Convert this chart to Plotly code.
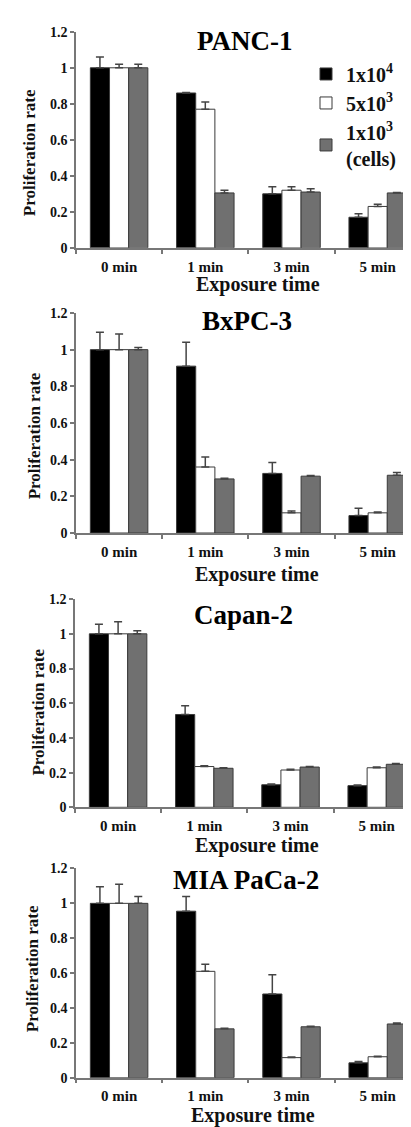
import plotly.graph_objects as go

W, H = 411, 1127

categories = ["0 min", "1 min", "3 min", "5 min"]
series_names = ["1x10<sup>4</sup>", "5x10<sup>3</sup>", "1x10<sup>3</sup><br>(cells)"]
series_colors = ["#000000", "#ffffff", "#707070"]
panel_titles = ["PANC-1", "BxPC-3", "Capan-2", "MIA PaCa-2"]
y_ticks = [0, 0.2, 0.4, 0.6, 0.8, 1.0, 1.2]
y_tick_labels = ["0", "0.2", "0.4", "0.6", "0.8", "1", "1.2"]

# PANC-1
panc1_1e4 = [1.0, 0.86, 0.30, 0.17]
panc1_1e4_err = [0.06, 0.003, 0.04, 0.02]
panc1_5e3 = [1.0, 0.77, 0.32, 0.23]
panc1_5e3_err = [0.02, 0.04, 0.02, 0.012]
panc1_1e3 = [1.0, 0.305, 0.31, 0.305]
panc1_1e3_err = [0.02, 0.015, 0.018, 0.003]

# BxPC-3
bxpc3_1e4 = [1.0, 0.91, 0.325, 0.095]
bxpc3_1e4_err = [0.095, 0.13, 0.06, 0.04]
bxpc3_5e3 = [1.0, 0.36, 0.11, 0.11]
bxpc3_5e3_err = [0.085, 0.055, 0.01, 0.004]
bxpc3_1e3 = [1.0, 0.295, 0.31, 0.315]
bxpc3_1e3_err = [0.012, 0.004, 0.003, 0.015]

# Capan-2
capan2_1e4 = [1.0, 0.535, 0.13, 0.125]
capan2_1e4_err = [0.055, 0.05, 0.004, 0.003]
capan2_5e3 = [1.0, 0.235, 0.215, 0.228]
capan2_5e3_err = [0.07, 0.004, 0.004, 0.004]
capan2_1e3 = [1.0, 0.225, 0.232, 0.248]
capan2_1e3_err = [0.018, 0.003, 0.003, 0.005]

# MIA PaCa-2
mia_1e4 = [1.0, 0.955, 0.48, 0.085]
mia_1e4_err = [0.095, 0.085, 0.11, 0.008]
mia_5e3 = [1.0, 0.61, 0.115, 0.12]
mia_5e3_err = [0.11, 0.04, 0.004, 0.003]
mia_1e3 = [1.0, 0.28, 0.292, 0.308]
mia_1e3_err = [0.04, 0.003, 0.003, 0.005]

panels = [
    [(panc1_1e4, panc1_1e4_err), (panc1_5e3, panc1_5e3_err), (panc1_1e3, panc1_1e3_err)],
    [(bxpc3_1e4, bxpc3_1e4_err), (bxpc3_5e3, bxpc3_5e3_err), (bxpc3_1e3, bxpc3_1e3_err)],
    [(capan2_1e4, capan2_1e4_err), (capan2_5e3, capan2_5e3_err), (capan2_1e3, capan2_1e3_err)],
    [(mia_1e4, mia_1e4_err), (mia_5e3, mia_5e3_err), (mia_1e3, mia_1e3_err)],
]

# layout geometry (pixels)
y_top = [17, 302, 592, 865]       # value 1.2
y_bot = [236, 525, 803, 1077]     # value 0
axis_left = [68, 68, 67, 68]
title_y = [26, 310, 608, 877]
title_x = [237, 239, 236, 238]
xtitle_y = [273, 567, 842, 1115]
xtitle_x = [250, 249, 249, 245]
ytitle_x = [21, 26, 31, 24]
ytitle_y = [140, 427, 707, 967]
cat_w = 86.2

FONT = "Liberation Serif, Times New Roman, serif"

fig = go.Figure()
annotations = []
for p, series in enumerate(panels):
    xa = "x" if p == 0 else f"x{p+1}"
    ya = "y" if p == 0 else f"y{p+1}"
    for s, (vals, errs) in enumerate(series):
        fig.add_trace(go.Bar(
            x=categories, y=vals, name=series_names[s],
            xaxis=xa, yaxis=ya,
            marker=dict(color=series_colors[s], line=dict(color="#3a3a3a", width=1)),
            error_y=dict(type="data", symmetric=False, array=errs,
                         arrayminus=[0] * len(errs),
                         color="#444444", thickness=1.5, width=4),
            showlegend=(p == 0), legendgroup=str(s),
        ))
    xd = [axis_left[p] / W, 1.0]
    yd = [(H - y_bot[p]) / H, (H - y_top[p]) / H]
    xr = [-0.5, -0.5 + (W - axis_left[p]) / cat_w]
    suffix = "" if p == 0 else str(p + 1)
    fig.layout["xaxis" + suffix] = dict(
        domain=xd, anchor=ya, range=xr, type="category",
        showline=True, linecolor="#777777", linewidth=1.5,
        ticks="outside", ticklen=4, tickcolor="#777777", tickwidth=1.5,
        tickson="boundaries", ticklabelstandoff=4,
        tickfont=dict(family=FONT, size=15, color="#111111", weight="bold"),
        showgrid=False, zeroline=False, fixedrange=True,
    )
    fig.layout["yaxis" + suffix] = dict(
        domain=yd, anchor=xa, range=[0, 1.2],
        tickvals=y_ticks, ticktext=y_tick_labels,
        showline=True, linecolor="#777777", linewidth=1.5,
        ticks="outside", ticklen=4, tickcolor="#777777", tickwidth=1.5,
        tickfont=dict(family=FONT, size=14, color="#111111", weight="bold"),
        showgrid=False, zeroline=False, fixedrange=True,
    )
    annotations.append(dict(
        text=panel_titles[p], xref="paper", yref="paper",
        x=title_x[p] / W, y=(H - title_y[p]) / H, xanchor="center", yanchor="middle",
        showarrow=False, font=dict(family=FONT, size=27, color="#000000", weight="bold"),
    ))
    annotations.append(dict(
        text="Exposure time", xref="paper", yref="paper",
        x=xtitle_x[p] / W, y=(H - xtitle_y[p]) / H, xanchor="center", yanchor="middle",
        showarrow=False, font=dict(family=FONT, size=20, color="#111111", weight="bold"),
    ))
    annotations.append(dict(
        text="Proliferation rate", xref="paper", yref="paper", textangle=-90,
        x=ytitle_x[p] / W, y=(H - ytitle_y[p]) / H, xanchor="center", yanchor="middle",
        showarrow=False, font=dict(family=FONT, size=17, color="#111111", weight="bold"),
    ))

fig.update_layout(
    width=W, height=H,
    margin=dict(l=0, r=0, t=0, b=0),
    paper_bgcolor="white", plot_bgcolor="white",
    barmode="group", bargap=0.333, bargroupgap=0,
    annotations=annotations,
    legend=dict(
        x=298 / W, y=(H - 40) / H, xanchor="left", yanchor="top",
        bgcolor="rgba(0,0,0,0)", tracegroupgap=0,
        font=dict(family=FONT, size=20, color="#111111", weight="bold"),
        itemclick=False, itemdoubleclick=False,
    ),
    showlegend=True,
)

fig.write_html("out.html")
